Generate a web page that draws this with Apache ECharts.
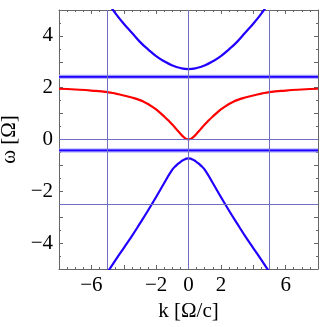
<!DOCTYPE HTML>
<html>
<head>
    <meta charset="utf-8">
    <title>dispersion</title>
    <style>
        html, body { margin: 0; padding: 0; background: #fff; }
        #demo { width: 327px; height: 327px; }
    </style>
</head>
<body>
<div id="demo"></div>
<script type="text/javascript" src="https://cdn.jsdelivr.net/npm/echarts@6/dist/echarts.min.js"></script>
<script type="text/javascript">
    // upper band (blue)
    var kUpper = [-5, -4.5, -4, -3.5, -3, -2.5, -2, -1.5, -1, -0.5, 0, 0.5, 1, 1.5, 2, 2.5, 3, 3.5, 4, 4.5, 5];
    var wUpper = [5.3, 4.86, 4.47, 4.12, 3.77, 3.48, 3.22, 3.02, 2.86, 2.76, 2.72, 2.76, 2.86, 3.02, 3.22, 3.48, 3.77, 4.12, 4.47, 4.86, 5.3];
    // lower band (blue)
    var kLower = [-5, -4.5, -4, -3.5, -3, -2.5, -2, -1.5, -1, -0.75, -0.5, -0.375, -0.25, -0.125, 0, 0.125, 0.25, 0.375, 0.5, 0.75, 1, 1.5, 2, 2.5, 3, 3.5, 4, 4.5, 5];
    var wLower = [-5.12, -4.65, -4.19, -3.73, -3.24, -2.74, -2.22, -1.68, -1.16, -1.0, -0.87, -0.81, -0.77, -0.74, -0.73, -0.74, -0.77, -0.81, -0.87, -1.0, -1.16, -1.68, -2.22, -2.74, -3.24, -3.73, -4.19, -4.65, -5.12];
    // middle band (red)
    var kMid = [-8, -7, -6, -5, -4.5, -4, -3.5, -3, -2.75, -2.5, -2.25, -2, -1.75, -1.5, -1.25, -1, -0.75, -0.5, -0.375, -0.25, -0.125, 0,
                0.125, 0.25, 0.375, 0.5, 0.75, 1, 1.25, 1.5, 1.75, 2, 2.25, 2.5, 2.75, 3, 3.5, 4, 4.5, 5, 6, 7, 8];
    var wMid = [1.96, 1.93, 1.89, 1.83, 1.77, 1.70, 1.62, 1.52, 1.45, 1.37, 1.27, 1.16, 1.03, 0.89, 0.74, 0.58, 0.40, 0.22, 0.14, 0.07, 0.02, 0,
                0.02, 0.07, 0.14, 0.22, 0.40, 0.58, 0.74, 0.89, 1.03, 1.16, 1.27, 1.37, 1.45, 1.52, 1.62, 1.70, 1.77, 1.83, 1.89, 1.93, 1.96];
    // flat asymptote lines
    var kEdge = [-8, 8];
    var flatLevels = [2.42, -0.42];
    // thin grid lines
    var gridK = [-5, 0, 5];
    var gridW = [0, -2.5];
    // tick labels
    var xLabels = [-6, -2, 0, 2, 6];
    var yLabels = [-4, -2, 0, 2, 4];

    function pairs(xs, ys) {
        var out = [];
        for (var i = 0; i < xs.length; i++) {
            out.push([xs[i], ys[i]]);
        }
        return out;
    }

    function fmt(v) {
        return String(v).replace('-', '\u2212');
    }

    var BLUE = '#2200ff';
    var FRAME = '#666666';
    var FONT = 'Liberation Serif';
    var FSIZE = 21;

    var series = [];
    // grid lines
    var marks = [];
    for (var i = 0; i < gridK.length; i++) marks.push({xAxis: gridK[i]});
    for (var i = 0; i < gridW.length; i++) marks.push({yAxis: gridW[i]});
    series.push({
        type: 'line', data: [], z: 1,
        markLine: {
            silent: true, symbol: 'none', label: {show: false},
            lineStyle: {color: '#6e6ec4', width: 1, type: 'solid'},
            data: marks
        }
    });
    // flat lines: halo + core
    for (var j = 0; j < flatLevels.length; j++) {
        var d = pairs(kEdge, [flatLevels[j], flatLevels[j]]);
        series.push({type: 'line', data: d, symbol: 'none', z: 2,
            lineStyle: {color: '#9c9cff', width: 4}});
        series.push({type: 'line', data: d, symbol: 'none', z: 3,
            lineStyle: {color: BLUE, width: 1.8}});
    }
    var curveOpts = {type: 'line', symbol: 'none', smooth: 0.5, z: 4};
    series.push(Object.assign({data: pairs(kUpper, wUpper), lineStyle: {color: BLUE, width: 2.2}}, curveOpts));
    series.push(Object.assign({data: pairs(kLower, wLower), lineStyle: {color: BLUE, width: 2.2}}, curveOpts));
    series.push(Object.assign({data: pairs(kMid, wMid), lineStyle: {color: '#ff0000', width: 2.2}}, curveOpts));

    var axisCommon = {
        axisLine: {show: true, onZero: false, lineStyle: {color: FRAME, width: 1}},
        axisTick: {show: true, inside: true, length: 4, lineStyle: {color: FRAME}},
        splitLine: {show: false}
    };
    var xMinor = {minorTick: {show: true, splitNumber: 4, length: 2, lineStyle: {color: FRAME}}};
    var yMinor = {minorTick: {show: true, splitNumber: 2, length: 2, lineStyle: {color: FRAME}}};

    var option = {
        animation: false,
        grid: {left: 59, top: 10, width: 259, height: 259, containLabel: false, outerBoundsMode: 'none'},
        xAxis: [
            Object.assign({
                type: 'value', min: -8, max: 8, interval: 2, position: 'bottom',
                name: 'k [\u03A9/c]', nameLocation: 'middle', nameGap: 25,
                nameTextStyle: {fontFamily: FONT, fontSize: FSIZE, color: '#000'},
                axisLabel: {
                    fontFamily: FONT, fontSize: FSIZE, color: '#000', margin: 6,
                    formatter: function (v) { return xLabels.indexOf(v) >= 0 ? fmt(v) : ''; }
                }
            }, axisCommon, xMinor),
            Object.assign({
                type: 'value', min: -8, max: 8, interval: 2, position: 'top',
                axisLabel: {show: false}
            }, axisCommon, xMinor)
        ],
        yAxis: [
            Object.assign({
                type: 'value', min: -5, max: 5, interval: 1, position: 'left',
                name: '\u03C9 [\u03A9]', nameLocation: 'middle', nameGap: 36, nameRotate: 90,
                nameTextStyle: {fontFamily: FONT, fontSize: FSIZE, color: '#000'},
                axisLabel: {
                    fontFamily: FONT, fontSize: FSIZE, color: '#000', margin: 6,
                    formatter: function (v) { return yLabels.indexOf(v) >= 0 ? fmt(v) : ''; }
                }
            }, axisCommon, yMinor),
            Object.assign({
                type: 'value', min: -5, max: 5, interval: 1, position: 'right',
                axisLabel: {show: false}
            }, axisCommon, yMinor)
        ],
        series: series
    };

    var myChart = echarts.init(document.getElementById('demo'));
    myChart.setOption(option);
</script>
</body>
</html>
